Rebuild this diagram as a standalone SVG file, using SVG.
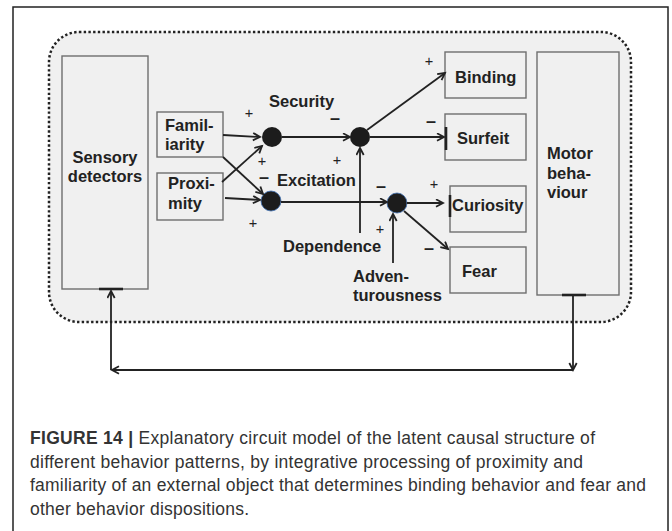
<svg xmlns="http://www.w3.org/2000/svg" width="672" height="531" viewBox="0 0 672 531">
<defs>
<style>
.box{fill:#f0f0f0;stroke:#6e6e6e;stroke-width:1.4}
.lbl{font-family:"Liberation Sans",Arial,sans-serif;font-weight:bold;font-size:16.5px;fill:#222}
.pl{font-family:"Liberation Sans",Arial,sans-serif;font-size:14.5px;fill:#222;text-anchor:middle}
.mi{font-family:"Liberation Sans",Arial,sans-serif;font-weight:bold;font-size:18px;fill:#222;text-anchor:middle}
.ln{stroke:#222;stroke-width:1.8;fill:none;marker-end:url(#arr)}
.bar{stroke:#222;stroke-width:2.6}
.dot{fill:#1c1c1c}
.dotb{fill:#1c1c1c;stroke:#3f6fb0;stroke-width:0.8}
.cap{font-family:"Liberation Sans",Arial,sans-serif;font-size:17.5px;fill:#333}
</style>
<marker id="arr" markerUnits="userSpaceOnUse" markerWidth="12" markerHeight="12" refX="8" refY="4.5" orient="auto">
<path d="M1,0.8 L8,4.5 L1,8.2" fill="none" stroke="#222" stroke-width="1.8"/>
</marker>
</defs>
<rect x="0" y="0" width="672" height="531" fill="#ffffff"/>
<rect x="13" y="7" width="655" height="540" fill="none" stroke="#222" stroke-width="1.5"/>
<rect x="49" y="32" width="582" height="290" rx="30" ry="30" fill="#f0f0f0" stroke="#222" stroke-width="2.5" stroke-dasharray="2.4 2.3"/>

<g id="sensory">
<rect class="box" x="62" y="56" width="86" height="233"/>
<text class="lbl" x="105" y="163" text-anchor="middle">Sensory</text>
<text class="lbl" x="105" y="182" text-anchor="middle">detectors</text>
</g>
<g id="familiarity">
<rect class="box" x="157" y="112" width="66" height="45"/>
<text class="lbl" x="165" y="131">Famil-</text>
<text class="lbl" x="165" y="150">iarity</text>
</g>
<g id="proximity">
<rect class="box" x="157" y="173" width="66" height="47"/>
<text class="lbl" x="168" y="189">Proxi-</text>
<text class="lbl" x="168" y="209">mity</text>
</g>
<g id="binding">
<rect class="box" x="445" y="52" width="81" height="46"/>
<text class="lbl" x="455" y="83">Binding</text>
</g>
<g id="surfeit">
<rect class="box" x="445" y="114" width="81" height="46"/>
<text class="lbl" x="457" y="144">Surfeit</text>
</g>
<g id="curiosity">
<rect class="box" x="450" y="186" width="76" height="46"/>
<text class="lbl" x="452" y="211">Curiosity</text>
</g>
<g id="fear">
<rect class="box" x="450" y="247" width="76" height="46"/>
<text class="lbl" x="462" y="277">Fear</text>
</g>
<g id="motor">
<rect class="box" x="537" y="52" width="82" height="243"/>
<text class="lbl" x="547" y="159">Motor</text>
<text class="lbl" x="547" y="179">beha-</text>
<text class="lbl" x="547" y="198">viour</text>
</g>
<g id="security">
<circle class="dot" cx="272" cy="137" r="10"/>
<text class="lbl" x="269" y="107" font-size="16">Security</text>
</g>
<g id="excitation">
<circle class="dotb" cx="271" cy="201" r="10"/>
<text class="lbl" x="277" y="186">Excitation</text>
</g>
<g id="node-binding">
<circle class="dot" cx="360" cy="137" r="10"/>
</g>
<g id="node-curiosity">
<circle class="dotb" cx="397" cy="203" r="10"/>
</g>
<g id="dependence">
<text class="lbl" x="283" y="252">Dependence</text>
</g>
<g id="adventurousness">
<text class="lbl" x="353" y="282">Adven-</text>
<text class="lbl" x="353" y="301">turousness</text>
</g>

<g id="connectors">
<path class="ln" d="M223,135 L260,137"/>
<path class="ln" d="M222,182 L262,146"/>
<path class="ln" d="M223,157 L263,194"/>
<path class="ln" d="M225,198 L260,200"/>
<path class="ln" d="M282,137 L350,137"/>
<path class="ln" d="M367,130 L445,73"/>
<path class="ln" d="M370,137 L444,137"/>
<path class="ln" d="M281,202 L387,202"/>
<path class="ln" d="M360,233 L360,148"/>
<path class="ln" d="M393,263 L393,214"/>
<path class="ln" d="M407,203 L443,203"/>
<path class="ln" d="M404,211 L448,249"/>
<path class="ln" d="M573,295 L573,370"/>
<path class="ln" d="M573,370 L112,370"/>
<path class="ln" d="M111,370 L111,291"/>
<line class="bar" x1="446" y1="127" x2="446" y2="150"/>
<line class="bar" x1="450" y1="195" x2="450" y2="217"/>
<line class="bar" x1="99" y1="289" x2="123" y2="289"/>
<line class="bar" x1="562" y1="295" x2="586" y2="295"/>
</g>

<g id="signs">
<text class="pl" x="249" y="118">+</text>
<text class="pl" x="262" y="165.5">+</text>
<text class="pl" x="337" y="165">+</text>
<text class="pl" x="253" y="227.5">+</text>
<text class="pl" x="429" y="66">+</text>
<text class="pl" x="434" y="189">+</text>
<text class="pl" x="380" y="234">+</text>
<text class="mi" x="335" y="123.5">–</text>
<text class="mi" x="264" y="183">–</text>
<text class="mi" x="431" y="127">–</text>
<text class="mi" x="381" y="192">–</text>
<text class="mi" x="429" y="254">–</text>
</g>

<g id="caption">
<text class="cap" x="30" y="444" textLength="565" lengthAdjust="spacing"><tspan font-weight="bold">FIGURE 14 |</tspan> Explanatory circuit model of the latent causal structure of</text>
<text class="cap" x="30" y="468" textLength="553" lengthAdjust="spacing">different behavior patterns, by integrative processing of proximity and</text>
<text class="cap" x="30" y="491" textLength="616" lengthAdjust="spacing">familiarity of an external object that determines binding behavior and fear and</text>
<text class="cap" x="30" y="515" textLength="219" lengthAdjust="spacing">other behavior dispositions.</text>
</g>
</svg>
